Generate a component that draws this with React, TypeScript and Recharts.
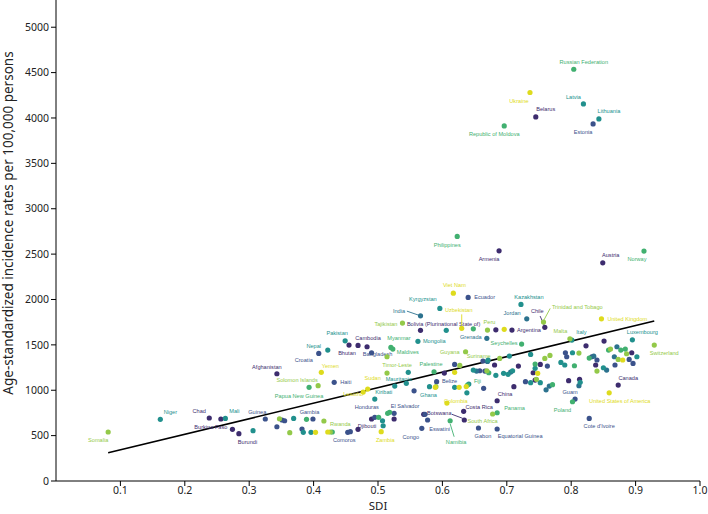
import React from 'react';
import { ScatterChart, Scatter, XAxis, YAxis, ReferenceLine, Label } from 'recharts';

type Group = 'P' | 'B' | 'DT' | 'T' | 'G' | 'LG' | 'Y';

// SDI / incidence per country
const labelled: [string, number, number, Group][] = [
  ['Russian Federation', 0.804, 4537, 'G'],
  ['Ukraine', 0.736, 4281, 'Y'],
  ['Latvia', 0.819, 4155, 'T'],
  ['Belarus', 0.745, 4012, 'P'],
  ['Lithuania', 0.843, 3990, 'T'],
  ['Estonia', 0.834, 3935, 'B'],
  ['Republic of Moldova', 0.696, 3913, 'G'],
  ['Philippines', 0.623, 2695, 'G'],
  ['Armenia', 0.688, 2536, 'P'],
  ['Austria', 0.849, 2404, 'P'],
  ['Norway', 0.913, 2533, 'G'],
  ['Viet Nam', 0.617, 2070, 'Y'],
  ['Ecuador', 0.640, 2023, 'B'],
  ['Kyrgyzstan', 0.596, 1902, 'T'],
  ['Kazakhstan', 0.722, 1946, 'T'],
  ['India', 0.566, 1820, 'DT'],
  ['Uzbekistan', 0.630, 1682, 'Y'],
  ['Tajikistan', 0.538, 1740, 'LG'],
  ['Bolivia (Plurinational State of)', 0.566, 1660, 'P'],
  ['Grenada', 0.669, 1572, 'DT'],
  ['Pakistan', 0.449, 1545, 'T'],
  ['Cambodia', 0.469, 1494, 'P'],
  ['Bhutan', 0.455, 1498, 'P'],
  ['Bangladesh', 0.490, 1413, 'B'],
  ['Nepal', 0.422, 1443, 'T'],
  ['Croatia', 0.408, 1406, 'B'],
  ['Myanmar', 0.520, 1472, 'G'],
  ['Maldives', 0.523, 1454, 'G'],
  ['Mongolia', 0.562, 1539, 'T'],
  ['Timor-Leste', 0.514, 1369, 'LG'],
  ['Guyana', 0.636, 1424, 'LG'],
  ['Afghanistan', 0.343, 1182, 'P'],
  ['Yemen', 0.412, 1197, 'Y'],
  ['Palestine', 0.587, 1204, 'G'],
  ['Solomon Islands', 0.407, 1050, 'LG'],
  ['Papua New Guinea', 0.393, 1032, 'G'],
  ['Haiti', 0.432, 1087, 'B'],
  ['Sudan', 0.484, 1013, 'Y'],
  ['Mauritania', 0.526, 1046, 'T'],
  ['Lesotho', 0.477, 980, 'Y'],
  ['Kiribati', 0.495, 903, 'T'],
  ['Ghana', 0.580, 1039, 'T'],
  ['Belize', 0.591, 1094, 'B'],
  ['Fiji', 0.639, 1057, 'G'],
  ['Colombia', 0.607, 859, 'Y'],
  ['China', 0.685, 884, 'P'],
  ['Costa Rica', 0.633, 768, 'P'],
  ['Panama', 0.685, 752, 'G'],
  ['South Africa', 0.678, 738, 'LG'],
  ['Botswana', 0.634, 672, 'P'],
  ['Namibia', 0.612, 664, 'G'],
  ['Gabon', 0.656, 584, 'B'],
  ['Equatorial Guinea', 0.685, 573, 'B'],
  ['Eswatini', 0.577, 672, 'B'],
  ['Congo', 0.568, 580, 'B'],
  ['El Salvador', 0.525, 746, 'B'],
  ['Honduras', 0.495, 702, 'B'],
  ['Djibouti', 0.469, 569, 'P'],
  ['Comoros', 0.457, 543, 'B'],
  ['Rwanda', 0.426, 540, 'LG'],
  ['Zambia', 0.505, 543, 'Y'],
  ['Gambia', 0.399, 683, 'B'],
  ['Guinea', 0.325, 683, 'B'],
  ['Mali', 0.263, 690, 'T'],
  ['Chad', 0.238, 694, 'P'],
  ['Niger', 0.162, 680, 'T'],
  ['Burkina Faso', 0.274, 569, 'P'],
  ['Burundi', 0.284, 521, 'P'],
  ['Somalia', 0.081, 540, 'LG'],
  ['Jordan', 0.731, 1787, 'DT'],
  ['Chile', 0.759, 1693, 'P'],
  ['Trinidad and Tobago', 0.757, 1751, 'LG'],
  ['Argentina', 0.708, 1663, 'P'],
  ['Peru', 0.670, 1663, 'LG'],
  ['United Kingdom', 0.847, 1787, 'Y'],
  ['Seychelles', 0.723, 1509, 'G'],
  ['Suriname', 0.689, 1351, 'LG'],
  ['Malta', 0.798, 1567, 'LG'],
  ['Italy', 0.801, 1553, 'T'],
  ['Luxembourg', 0.895, 1556, 'T'],
  ['Switzerland', 0.929, 1498, 'LG'],
  ['Canada', 0.873, 1057, 'P'],
  ['United States of America', 0.859, 972, 'Y'],
  ["Cote d'Ivoire", 0.828, 690, 'B'],
  ['Guam', 0.806, 903, 'B'],
  ['Poland', 0.802, 873, 'G'],
];

// unlabelled countries, by colour
const purpleOthers: [number, number][] = [
  [0.483, 1479], [0.683, 1666], [0.681, 1278], [0.718, 1266], [0.752, 1285], [0.838, 1278],
  [0.851, 1542], [0.823, 1490], [0.894, 1413], [0.603, 1189], [0.711, 1039], [0.744, 1112],
  [0.741, 1193], [0.796, 1105], [0.813, 1120], [0.256, 683], [0.490, 683], [0.525, 683], [0.571, 735],
];
const blueOthers: [number, number][] = [
  [0.763, 1266], [0.791, 1413], [0.793, 1369], [0.832, 1369], [0.840, 1333], [0.890, 1340],
  [0.896, 1296], [0.868, 1278], [0.619, 1285], [0.658, 1215], [0.666, 1211], [0.663, 1322],
  [0.729, 1094], [0.664, 1021], [0.343, 598], [0.351, 672], [0.355, 664], [0.382, 573],
  [0.453, 536], [0.556, 994], [0.573, 735],
];
const darkTealOthers: [number, number][] = [
  [0.670, 1318], [0.867, 1369], [0.871, 1479], [0.855, 1222], [0.835, 1375], [0.653, 1211],
  [0.706, 1200], [0.761, 1005], [0.766, 1046], [0.812, 1050],
];
const tealOthers: [number, number][] = [
  [0.606, 1660], [0.737, 1395], [0.704, 1377], [0.784, 1307], [0.802, 1413], [0.902, 1369],
  [0.850, 1248], [0.814, 1087], [0.648, 1222], [0.671, 1333], [0.683, 1164], [0.695, 1186],
  [0.702, 1175], [0.709, 1215], [0.737, 1083], [0.744, 1241], [0.752, 1083], [0.790, 1278],
  [0.641, 1068], [0.638, 972], [0.619, 1032], [0.306, 554], [0.369, 690], [0.384, 536],
  [0.396, 536], [0.507, 664], [0.508, 609], [0.544, 1076], [0.547, 1197],
];
const greenOthers: [number, number][] = [
  [0.648, 1677], [0.858, 1443], [0.877, 1443], [0.884, 1454], [0.805, 1270], [0.828, 1355],
  [0.672, 1193], [0.744, 1289], [0.771, 1061], [0.389, 680], [0.429, 540], [0.501, 702],
  [0.515, 746], [0.518, 757],
];
const lightGreenOthers: [number, number][] = [
  [0.767, 1384], [0.759, 1351], [0.812, 1410], [0.861, 1454], [0.886, 1402], [0.873, 1340],
  [0.840, 1211], [0.627, 1274], [0.669, 1215], [0.746, 1120], [0.514, 1189], [0.347, 686],
  [0.363, 532], [0.416, 661], [0.590, 1039],
];
const yellowOthers: [number, number][] = [
  [0.696, 1671], [0.880, 1333], [0.619, 1197], [0.748, 1186], [0.626, 1032], [0.637, 1040],
  [0.589, 1032], [0.403, 536], [0.422, 540],
];

// linear fit, start and end
const fitSdi = [0.081, 0.929];
const fitRate = [312, 1762];

const xTicks = [0.1, 0.2, 0.3, 0.4, 0.5, 0.6, 0.7, 0.8, 0.9, 1.0];
const yTicks = [0, 500, 1000, 1500, 2000, 2500, 3000, 3500, 4000, 4500, 5000];

const palette: Record<Group, string> = {
  P: '#3d2c6e',
  B: '#3b528b',
  DT: '#2c728e',
  T: '#21908d',
  G: '#41b070',
  LG: '#93c949',
  Y: '#dedb1d',
};

const othersByGroup: Record<Group, [number, number][]> = {
  P: purpleOthers, B: blueOthers, DT: darkTealOthers, T: tealOthers,
  G: greenOthers, LG: lightGreenOthers, Y: yellowOthers,
};

// label offset in px from the dot: dx, dy (baseline), anchor
const labelPlace: Record<string, [number, number, string?]> = {
  'Russian Federation': [10, -5], Ukraine: [-11, 10.5], Latvia: [-10, -5], Belarus: [10, -5.5],
  Lithuania: [10, -5.5], Estonia: [-10, 10], 'Republic of Moldova': [-10, 10],
  Philippines: [-10, 10.7], Armenia: [-10, 10.3], Austria: [8, -6], Norway: [-7, 10.3],
  'Viet Nam': [1, -5.7], Ecuador: [6, 2, 'start'], Kyrgyzstan: [-17, -7], Kazakhstan: [8, -5],
  India: [-21.5, -3], Uzbekistan: [-3, -16], Tajikistan: [-5, 3.3, 'end'],
  'Bolivia (Plurinational State of)': [-13.6, -4, 'start'], Grenada: [-16, 1], Pakistan: [-8, -6],
  Cambodia: [10, -5.3], Bhutan: [-2, 10], Bangladesh: [6, 3], Nepal: [-14, -2], Croatia: [-15, 8.7],
  Myanmar: [8, -7], Maldives: [15, 4.7], Mongolia: [5, 2, 'start'], 'Timor-Leste': [10, 10],
  Guyana: [-6, 2, 'end'], Afghanistan: [-10, -5], Yemen: [9, -4.6], Palestine: [-3, -5.4],
  'Solomon Islands': [-21, -3.4], 'Papua New Guinea': [-10, 10.4], Haiti: [6, 2, 'start'],
  Sudan: [5, -9.3], Mauritania: [4, -5], Lesotho: [-10, 3.5], Kiribati: [9, -4.7], Ghana: [-1, 10.3],
  Belize: [13, 1], Fiji: [10, -2], Colombia: [9, -0.5], China: [8, -4.7], 'Costa Rica': [15.5, -2],
  Panama: [7, -3, 'start'], 'South Africa': [-10, 9], Botswana: [-25, -5.3], Namibia: [6, 23],
  Gabon: [4.5, 10], 'Equatorial Guinea': [23, 9], Eswatini: [12, 11], Congo: [-11, 11],
  'El Salvador': [11, -5.6], Honduras: [-8, -8.6], Djibouti: [9, -1], Comoros: [-6, 10],
  Rwanda: [10, -6], Zambia: [4, 10], Gambia: [-3.5, -5.3], Guinea: [-8, -5.3], Mali: [9, -5.3],
  Chad: [-10, -5.3], Niger: [10, -5.3], 'Burkina Faso': [-21.6, 0], Burundi: [8.6, 10],
  Somalia: [-10, 10], Jordan: [-14.7, -4], Chile: [-7.5, -14], 'Trinidad and Tobago': [8.4, -13.3, 'start'],
  Argentina: [5, 2, 'start'], Peru: [2, -6], 'United Kingdom': [6, 2, 'start'],
  Seychelles: [-4, 1.3, 'end'], Suriname: [-21, 0], Malta: [-9.5, -5.7], Italy: [9.6, -5.7],
  Luxembourg: [10, -5.7], Switzerland: [10, 9.7], Canada: [10, -5.3],
  'United States of America': [10.5, 10], "Cote d'Ivoire": [10, 9.7], Guam: [-5, -5], Poland: [-10, 10],
};

// leader lines: x1, y1, x2, y2 relative to the dot
const leaders: Record<string, [number, number, number, number]> = {
  India: [-13.6, -4.7, -2, -0.7],
  Uzbekistan: [0, -14, 0, -3],
  Chile: [-4.7, -11.3, -0.7, -2.3],
  'Trinidad and Tobago': [6.7, -13.7, 0, -1.3],
  Botswana: [-12.3, -5.7, -1.7, -1.7],
  Namibia: [0, 3, 4, 16],
};

const groups: Group[] = ['P', 'B', 'DT', 'T', 'G', 'LG', 'Y'];

const buildSeries = (g: Group) => [
  ...othersByGroup[g].map(([x, y]) => ({ x, y, name: '' })),
  ...labelled.filter(r => r[3] === g).map(([name, x, y]) => ({ x, y, name })),
];

const Dot = (props: any) => {
  const { cx, cy, payload, fill } = props;
  if (cx == null || cy == null) return null;
  const name: string = payload?.name || '';
  const place = name ? labelPlace[name] : undefined;
  const lead = name ? leaders[name] : undefined;
  return (
    <g>
      <circle cx={cx} cy={cy} r={2.6} fill={fill} />
      {lead && (
        <line x1={cx + lead[0]} y1={cy + lead[1]} x2={cx + lead[2]} y2={cy + lead[3]} stroke={fill} strokeWidth={0.9} />
      )}
      {place && (
        <text
          x={cx + place[0]}
          y={cy + place[1]}
          textAnchor={(place[2] as any) || 'middle'}
          fontSize={5.6}
          fill={fill}
          fontFamily="Arial, 'Liberation Sans', sans-serif"
        >
          {name}
        </text>
      )}
    </g>
  );
};

const tickFont = { fill: '#222', fontSize: 10.5, fontFamily: "'Noto Sans', sans-serif" };

export default function App() {
  return (
    <div style={{ position: 'absolute', left: 0, top: 0, width: 708, height: 514, background: '#fff' }}>
      <ScatterChart width={708} height={514} margin={{ top: 0, right: 8, bottom: 0, left: 0 }}>
        <XAxis
          type="number"
          dataKey="x"
          domain={[0, 1]}
          ticks={xTicks}
          tickFormatter={(v: number) => v.toFixed(1)}
          height={33}
          stroke="#000"
          tickSize={5}
          tickMargin={1}
          tick={tickFont}
          allowDataOverflow
        >
          <Label
            content={() => (
              <text x={378} y={510} textAnchor="middle" fontSize={11.5} fill="#222" fontFamily="'Noto Sans', sans-serif">
                SDI
              </text>
            )}
          />
        </XAxis>
        <YAxis
          type="number"
          dataKey="y"
          domain={[0, 5300]}
          ticks={yTicks}
          width={56}
          stroke="#000"
          tickSize={5}
          tickMargin={2}
          tick={tickFont}
          allowDataOverflow
        >
          <Label
            content={() => (
              <text
                x={13}
                y={223}
                transform="rotate(-90 13 223)"
                textAnchor="middle"
                fontSize={13.5}
                fill="#222"
                fontFamily="'Noto Sans', sans-serif"
              >
                Age-standardized incidence rates per 100,000 persons
              </text>
            )}
          />
        </YAxis>
        {groups.map(g => (
          <Scatter
            key={g}
            data={buildSeries(g)}
            fill={palette[g]}
            shape={Dot}
            isAnimationActive={false}
          />
        ))}
        <ReferenceLine
          segment={[
            { x: fitSdi[0], y: fitRate[0] },
            { x: fitSdi[1], y: fitRate[1] },
          ]}
          stroke="#000"
          strokeWidth={1.6}
        />
      </ScatterChart>
    </div>
  );
}
